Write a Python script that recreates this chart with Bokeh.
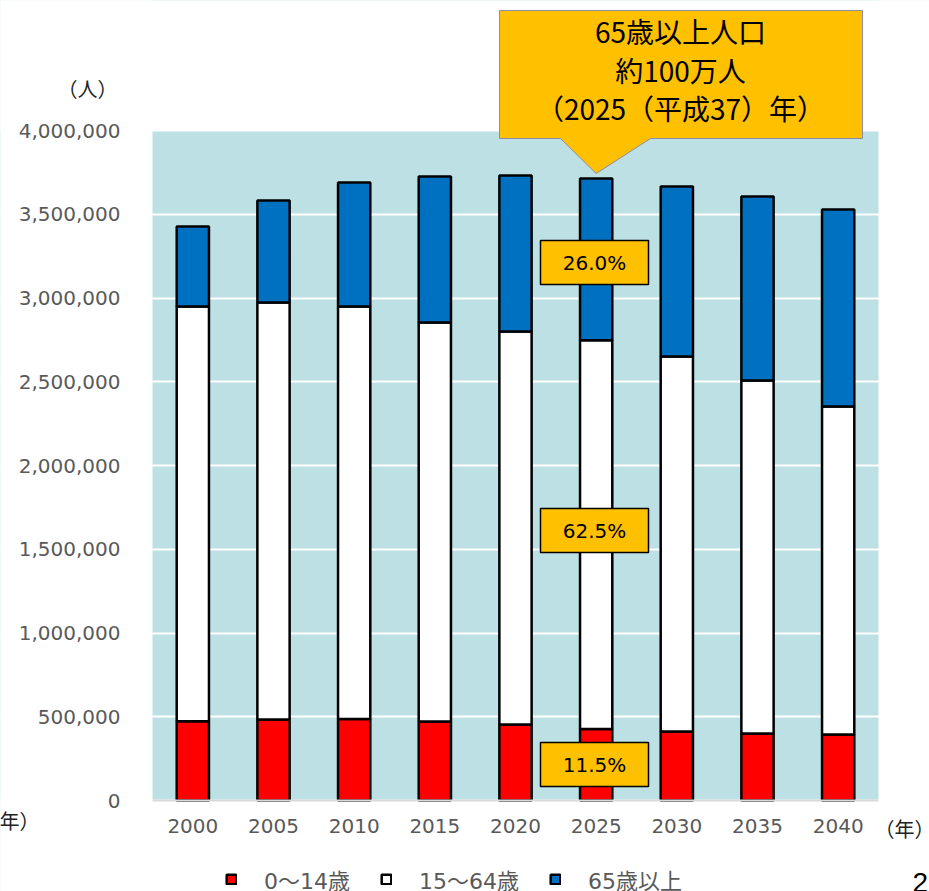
from bokeh.plotting import figure
from bokeh.models import (Range1d, NumeralTickFormatter, FixedTicker, Label,
                          BoxAnnotation, PolyAnnotation, Legend, LegendItem, ColumnDataSource)
from bokeh.embed import file_html
from bokeh.resources import INLINE

# ---------------- data ----------------
years = [2000, 2005, 2010, 2015, 2020, 2025, 2030, 2035, 2040]
age_0_14 = [473000, 484000, 487000, 472000, 454000, 427000, 412000, 400000, 394000]
age_15_64 = [2476000, 2489000, 2462000, 2382000, 2346000, 2321000, 2239000, 2107000, 1958000]
age_65_plus = [478000, 609000, 741000, 871000, 931000, 965000, 1015000, 1099000, 1176000]
series_names = ["0～14歳", "15～64歳", "65歳以上"]
y_ticks = [0, 500000, 1000000, 1500000, 2000000, 2500000, 3000000, 3500000, 4000000]
callout_lines = ["65歳以上人口", "約100万人", "（2025（平成37）年）"]
highlight_year = 2025
y_unit = "（人）"
x_unit = "（年）"
page_no = "2"

# ---------------- styles / layout ----------------
series_colors = ["#FF0000", "#FFFFFF", "#0070C0"]
GOLD = "#FFC000"
GREY = "#595959"
PLOT_BG = "#BCE0E3"
FONT = "'DejaVu Sans', 'Noto Sans CJK JP', sans-serif"
CJK = "'Noto Sans CJK JP', sans-serif"

W, H = 929, 891
Y_MAX = y_ticks[-1]
STEP = years[1] - years[0]
X_LO, X_HI = years[0] - STEP / 2, years[-1] + STEP / 2   # plot-area edges in data units

# plot area in page pixels: left 152, right 878, top 130 (=Y_MAX), bottom 800 (=0)
PX_PER_YEAR = (878 - 152) / (X_HI - X_LO)
PX_PER_UNIT = (800 - 130) / Y_MAX
def dx(px):
    return X_LO + (px - 152) / PX_PER_YEAR
def dy(py):
    return (800 - py) / PX_PER_UNIT

p = figure(width=W, height=H, x_range=Range1d(dx(0), dx(W)), y_range=Range1d(dy(H), dy(0)),
           output_backend="svg", toolbar_location=None,
           min_border_left=0, min_border_right=0, min_border_top=0, min_border_bottom=0)
p.background_fill_color = PLOT_BG
p.border_fill_color = "white"
p.outline_line_color = None

# white masks outside the plot area (drawn over the grid, under the bars)
far_l, far_r, far_t, far_b = dx(-50), dx(W + 50), dy(-50), dy(H + 50)
for kw in (dict(left=far_l, right=X_LO, bottom=far_b, top=far_t),
           dict(left=X_HI, right=far_r, bottom=far_b, top=far_t),
           dict(left=far_l, right=far_r, bottom=Y_MAX, top=far_t),
           dict(left=far_l, right=far_r, bottom=far_b, top=0)):
    p.add_layout(BoxAnnotation(level="underlay", fill_color="white", fill_alpha=1,
                               line_alpha=0, **kw))

src = ColumnDataSource(dict(year=years, young=age_0_14, working=age_15_64, elderly=age_65_plus))
rs = p.vbar_stack(["young", "working", "elderly"], x="year", width=STEP * 0.4, source=src,
                  fill_color=series_colors, line_color="black", line_width=2.5)

# axes (fixed inside the frame)
p.yaxis.fixed_location = X_LO
p.xaxis.fixed_location = 0
p.yaxis.ticker = FixedTicker(ticks=y_ticks)
p.yaxis.formatter = NumeralTickFormatter(format="0,0")
p.xaxis.ticker = FixedTicker(ticks=years)
for ax in (p.xaxis[0], p.yaxis[0]):
    ax.major_tick_line_color = None
    ax.minor_tick_line_color = None
    ax.major_tick_out = 0
    ax.major_tick_in = 0
    ax.major_label_text_font = FONT
    ax.major_label_text_font_size = "20px"
    ax.major_label_text_color = GREY
p.yaxis.axis_line_color = None
p.yaxis.major_label_standoff = 32
p.xaxis.axis_line_color = "#D9D9D9"
p.xaxis.axis_line_width = 2
p.xaxis.bounds = (X_LO, X_HI)
p.xaxis.major_label_standoff = 18
p.xgrid.grid_line_color = None
p.ygrid.ticker = FixedTicker(ticks=y_ticks)
p.ygrid.grid_line_color = "white"
p.ygrid.grid_line_width = 2

hi = years.index(highlight_year)

# callout balloon
p.add_layout(PolyAnnotation(
    xs=[dx(499), dx(862), dx(862), dx(650), highlight_year, dx(560), dx(499)],
    ys=[dy(10), dy(10), dy(138), dy(138), dy(173), dy(138), dy(138)],
    xs_units="data", ys_units="data",
    fill_color=GOLD, fill_alpha=1, line_color="#8C8CA8", line_width=1, line_alpha=1))
for line, py in zip(callout_lines, [30, 69, 107]):
    p.add_layout(Label(x=dx(680), y=dy(py), text=line, text_align="center", text_baseline="middle",
                       text_font=CJK, text_font_size="28px", text_color="black"))

# percentage boxes for highlighted year
tot = age_0_14[hi] + age_15_64[hi] + age_65_plus[hi]
pcts = [age_0_14[hi] / tot * 100, age_15_64[hi] / tot * 100, age_65_plus[hi] / tot * 100]
for pct, cy in zip(pcts, [764, 530, 262]):
    p.add_layout(BoxAnnotation(left=dx(540), right=dx(648), top=dy(cy - 22), bottom=dy(cy + 22),
                               fill_color=GOLD, fill_alpha=1, line_color="black", line_width=1.5,
                               line_alpha=1))
    p.add_layout(Label(x=dx(594), y=dy(cy), text=f"{pct:.1f}%", text_align="center",
                       text_baseline="middle", text_font=FONT, text_font_size="20px",
                       text_color="black"))

# unit labels and page number
p.add_layout(Label(x=dx(87), y=dy(88), text=y_unit, text_align="center", text_baseline="middle",
                   text_font=CJK, text_font_size="20px", text_color="#222222"))
p.add_layout(Label(x=dx(904), y=dy(828), text=x_unit, text_align="center", text_baseline="middle",
                   text_font=CJK, text_font_size="20px", text_color="#222222"))
p.add_layout(Label(x=dx(39), y=dy(820), text=x_unit, text_align="right", text_baseline="middle",
                   text_font=CJK, text_font_size="20px", text_color="#222222"))
p.add_layout(Label(x=dx(912), y=dy(872), text=page_no, text_align="left", text_baseline="top",
                   text_font="'Liberation Sans', sans-serif", text_font_size="28px",
                   text_color="black"))

# legend
legend = Legend(items=[LegendItem(label=n, renderers=[r]) for n, r in zip(series_names, rs)],
                location=(225, -4), orientation="horizontal", padding=0, margin=0,
                spacing=30, label_standoff=27, glyph_width=12, glyph_height=12,
                label_height=22, label_text_font=FONT, label_text_font_size="22px",
                label_text_color=GREY, border_line_color=None, background_fill_alpha=0)
p.add_layout(legend)

open("out.html", "w").write(file_html(p, INLINE))
